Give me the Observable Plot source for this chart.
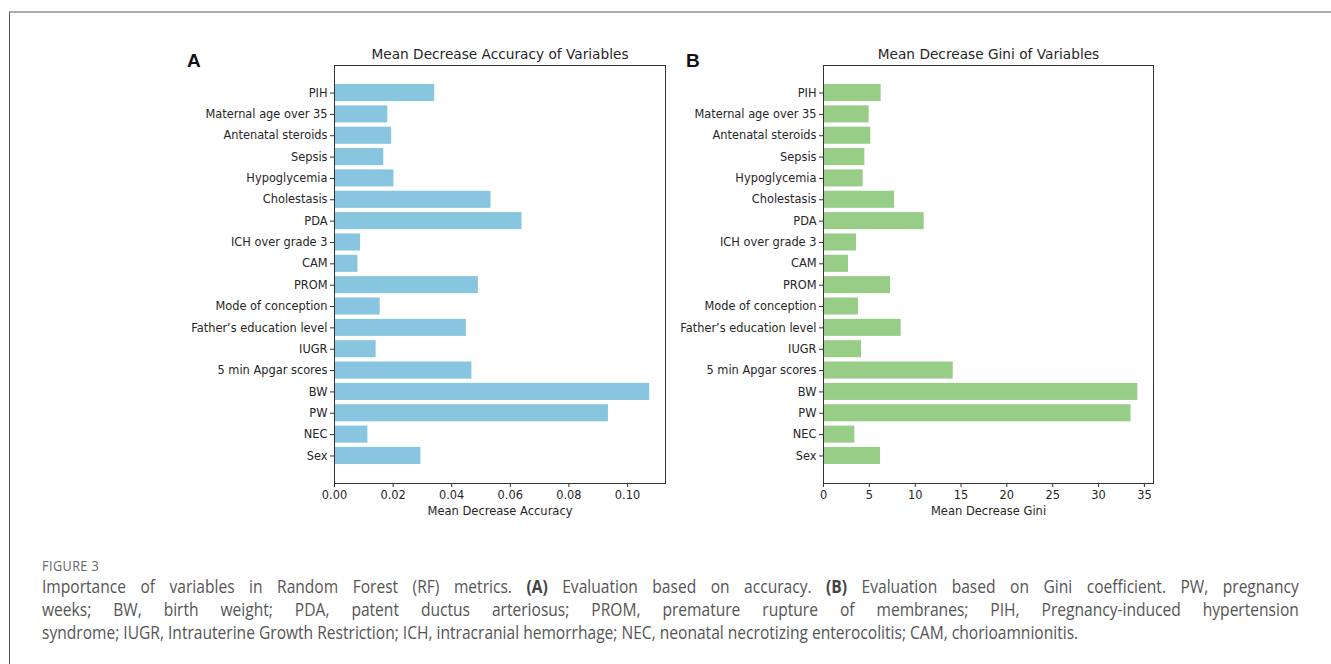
<!DOCTYPE html>
<html>
<head>
<meta charset="utf-8">
<script src="https://cdn.jsdelivr.net/npm/d3@7"></script>
<script src="https://cdn.jsdelivr.net/npm/@observablehq/plot@0.6"></script>
<style>
  html, body { margin: 0; padding: 0; background: #fff; }
  body { width: 1331px; height: 664px; position: relative; overflow: hidden; }
  #box {
    position: absolute; left: 9px; top: 11px; right: 0; bottom: -5px;
    border-top: 2px solid #ababab; border-left: 1px solid #555;
  }
  .panel { position: absolute; z-index: 1; }
  .letter {
    position: absolute; z-index: 2; font-family: "Liberation Sans", Arial, sans-serif;
    font-weight: bold; font-size: 19px; line-height: 22px; color: #111;
  }
  #figlabel {
    position: absolute; left: 42px; top: 558px;
    font-family: "Open Sans", sans-serif; font-size: 14.5px; line-height: 15px; color: #666;
    letter-spacing: 0.5px; transform: scaleX(0.87); transform-origin: left top;
  }
  /* condensed caption block: laid out wide, then narrowed */
  #caption {
    position: absolute; left: 42px; top: 575px; width: 1453px;
    font-family: "Open Sans", sans-serif; font-size: 18px; line-height: 23px;
    color: #555; transform: scaleX(0.865); transform-origin: left top;
  }
  #caption .line { display: block; white-space: nowrap; }
  #caption .full { text-align: justify; text-align-last: justify; }
  #caption b { color: #444; }
</style>
</head>
<body>
<div id="box"></div>
<div class="letter" style="left:187px; top:50px;">A</div>
<div class="letter" style="left:686px; top:50px;">B</div>
<div class="panel" id="panelA" style="left:170px; top:38px;"></div>
<div class="panel" id="panelB" style="left:670px; top:38px;"></div>
<div id="figlabel">FIGURE 3</div>
<div id="caption">
  <span class="line full">Importance of variables in Random Forest (RF) metrics. <b>(A)</b> Evaluation based on accuracy. <b>(B)</b> Evaluation based on Gini coefficient. PW, pregnancy</span>
  <span class="line full">weeks; BW, birth weight; PDA, patent ductus arteriosus; PROM, premature rupture of membranes; PIH, Pregnancy-induced hypertension</span>
  <span class="line">syndrome; IUGR, Intrauterine Growth Restriction; ICH, intracranial hemorrhage; NEC, neonatal necrotizing enterocolitis; CAM, chorioamnionitis.</span>
</div>
<script>
// Variables, listed from the bottom bar (Sex) to the top bar (PIH)
const variables = [
  "Sex", "NEC", "PW", "BW", "5 min Apgar scores", "IUGR",
  "Father\u2019s education level", "Mode of conception", "PROM", "CAM",
  "ICH over grade 3", "PDA", "Cholestasis", "Hypoglycemia", "Sepsis",
  "Antenatal steroids", "Maternal age over 35", "PIH"
];

// Mean decrease in accuracy, same order
const meanDecreaseAccuracy = [
  0.0295, 0.0114, 0.0935, 0.1076, 0.0469, 0.0142,
  0.0450, 0.0156, 0.0491, 0.0080,
  0.0089, 0.0640, 0.0534, 0.0203, 0.0168,
  0.0195, 0.0182, 0.0342
];

// Mean decrease in Gini impurity, same order
const meanDecreaseGini = [
  6.22, 3.42, 33.55, 34.28, 14.15, 4.15,
  8.47, 3.82, 7.31, 2.73,
  3.60, 10.98, 7.75, 4.33, 4.51,
  5.16, 4.98, 6.29
];

const accuracyTicks = [0, 0.02, 0.04, 0.06, 0.08, 0.10];
const giniTicks = [0, 5, 10, 15, 20, 25, 30, 35];

function importancePanel({values, ticks, tickFormat, color, title, xLabel,
                          width, marginLeft, marginRight}) {
  const rows = variables.map((name, i) => ({name, value: values[i]}));
  const topToBottom = variables.slice().reverse();
  return Plot.plot({
    width,
    height: 492,
    marginLeft,
    marginRight,
    marginTop: 27,
    marginBottom: 47,
    style: {fontFamily: "DejaVu Sans", fontSize: "11.4px", color: "#262626", background: "transparent"},
    x: {domain: [0, d3.max(values) * 1.05], label: null},
    y: {type: "band", domain: topToBottom, paddingInner: 0.2, paddingOuter: 0.89,
        round: false, label: null},
    marks: [
      Plot.barX(rows, {x: "value", y: "name", fill: color}),
      Plot.frame({stroke: "#333", strokeWidth: 1}),
      Plot.axisY({tickSize: 4, tickPadding: 3, stroke: "#333", label: null}),
      Plot.axisX({ticks, tickFormat, tickSize: 4, tickPadding: 3, stroke: "#333", label: null}),
      Plot.text([title], {frameAnchor: "top", lineAnchor: "middle", dy: -11,
                          fontSize: 13.7, fill: "#262626"}),
      Plot.text([xLabel], {frameAnchor: "bottom", lineAnchor: "middle", dy: 28,
                           fontSize: 11.5, fill: "#262626"})
    ]
  });
}

document.getElementById("panelA").append(importancePanel({
  values: meanDecreaseAccuracy,
  ticks: accuracyTicks,
  tickFormat: d3.format(".2f"),
  color: "#87c5e0",
  title: "Mean Decrease Accuracy of Variables",
  xLabel: "Mean Decrease Accuracy",
  width: 500, marginLeft: 164, marginRight: 5
}));

document.getElementById("panelB").append(importancePanel({
  values: meanDecreaseGini,
  ticks: giniTicks,
  tickFormat: d => String(d),
  color: "#98cd88",
  title: "Mean Decrease Gini of Variables",
  xLabel: "Mean Decrease Gini",
  width: 490, marginLeft: 153, marginRight: 7
}));
</script>
</body>
</html>
